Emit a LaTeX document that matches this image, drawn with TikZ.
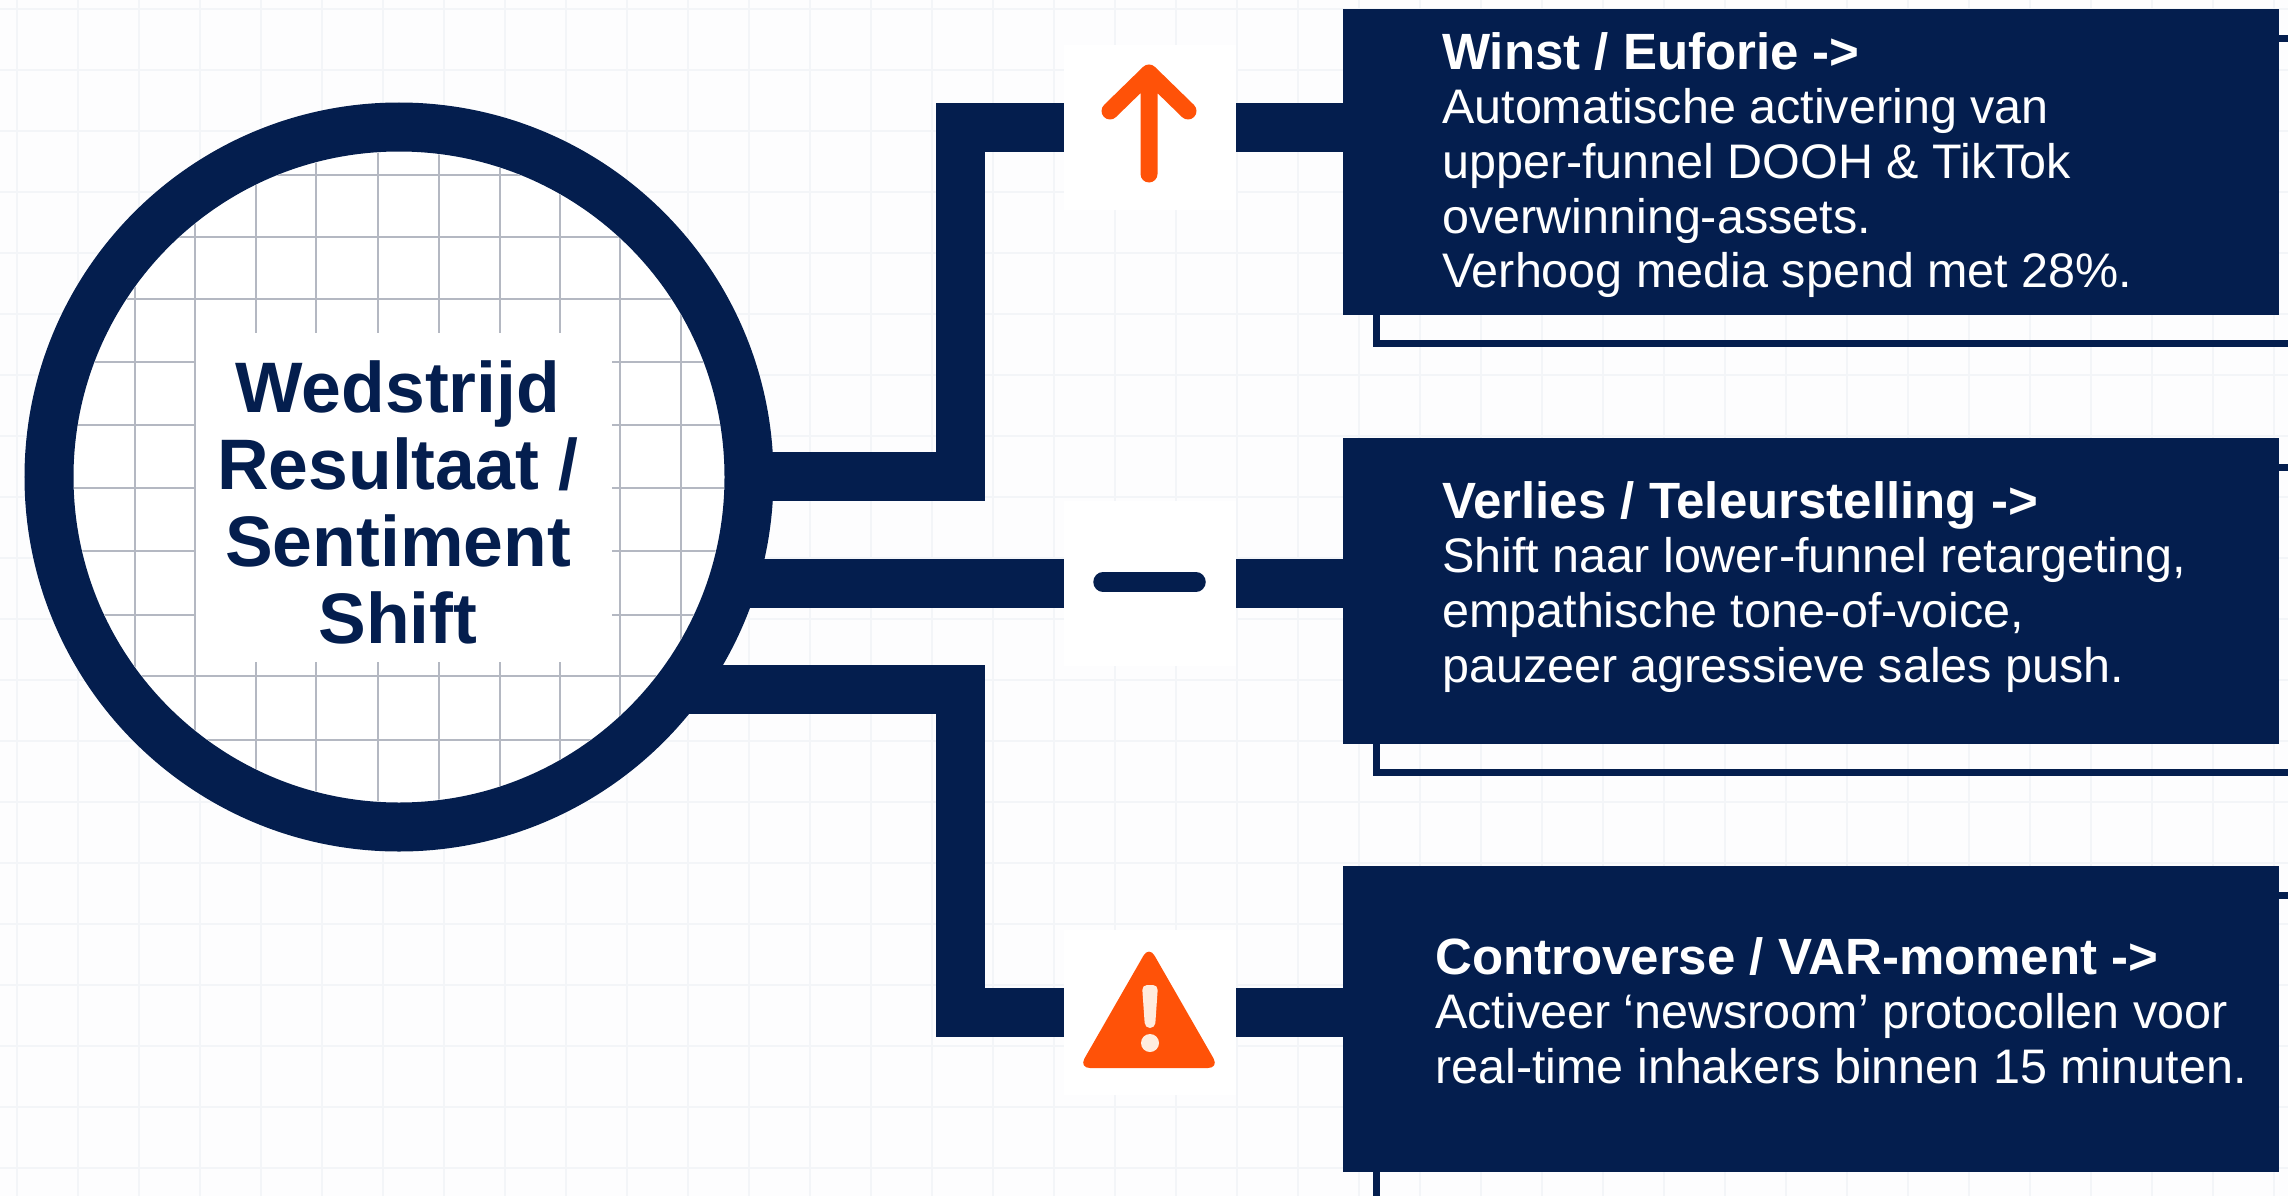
\documentclass[tikz,border=0pt]{standalone}
\usepackage{fontspec}
\setmainfont{Liberation Sans}
\usetikzlibrary{backgrounds}
\definecolor{navy}{RGB}{4,30,78}
\definecolor{hot}{RGB}{255,82,8}
\definecolor{bgc}{RGB}{253,253,254}
\definecolor{faint}{RGB}{243,245,248}
\definecolor{gridc}{RGB}{180,184,194}
\definecolor{pale}{RGB}{255,236,222}
\pgfdeclarelayer{bottom}
\pgfsetlayers{bottom,background,main}
\tikzset{
  x=1pt,y=-1pt,
  conn/.style={draw=navy,line width=49pt,line join=miter},
  thinl/.style={draw=navy,line width=7pt},
  cardbox/.style={rectangle,fill=navy,minimum width=936pt,minimum height=306pt,inner sep=0pt,outer sep=0pt},
  mask/.style={rectangle,fill=white,minimum width=172pt,minimum height=165pt,inner sep=0pt,outer sep=0pt},
  hubring/.style={circle,draw=navy,fill=white,line width=49pt,minimum size=700pt,inner sep=0pt,outer sep=0pt},
  cardtext/.style={text=white,align=left,anchor=north west,inner sep=0pt,font=\fontsize{48.5}{54.7}\selectfont},
  hubmask/.style={rectangle,fill=white,inner sep=0pt,minimum width=416pt,minimum height=329pt},
  hubtext/.style={text=navy,align=center,font=\fontsize{71.5}{77}\selectfont\bfseries,inner sep=0pt},
}
\newcommand{\hd}[1]{{\fontsize{51}{54.7}\selectfont\bfseries #1}}
\begin{document}
\begin{tikzpicture}
\useasboundingbox (0,0) rectangle (2288,1196);
% background and grid
\begin{pgfonlayer}{bottom}
\fill[bgc] (0,0) rectangle (2288,1196);
\foreach \i in {0,...,37} \draw[faint,line width=1.5pt] ({17+61*\i},0) -- ({17+61*\i},1196);
\foreach \i in {0,...,19} \draw[faint,line width=1.5pt] (0,{9+61*\i}) -- (2288,{9+61*\i});
\end{pgfonlayer}
% hub
\node[hubring] (hub) at (399,477) {};
\begin{scope}
\clip (399,477) circle (325);
\foreach \x in {135,195,256,316,378,439,500,560,620,681} \draw[gridc,line width=2.4pt] (\x,140) -- (\x,815);
\foreach \y in {175,237,299,362,425,488,551,615,676,740} \draw[gridc,line width=2.4pt] (60,\y) -- (740,\y);
\end{scope}
\node[hubmask] (hubm) at (404,497) {};
\node[hubtext] (hubt) at (398,502) {Wedstrijd\\Resultaat /\\Sentiment\\Shift};
% cards
\node[cardbox] (c1) at (1811,162) {};
\node[cardbox] (c2) at (1811,590.5) {};
\node[cardbox] (c3) at (1811,1018.5) {};
\node[cardtext] (t1) at (1442,32) {\hd{Winst / Euforie ->}\\Automatische activering van\\upper-funnel DOOH \& TikTok\\overwinning-assets.\\Verhoog media spend met 28\%.};
\node[cardtext] (t2) at (1442,481) {\hd{Verlies / Teleurstelling ->}\\Shift naar lower-funnel retargeting,\\empathische tone-of-voice,\\pauzeer agressieve sales push.};
\node[cardtext] (t3) at (1435,937) {\hd{Controverse / VAR-moment ->}\\Activeer ‘newsroom’ protocollen voor\\real-time inhakers binnen 15 minuten.};
% icon masks
\node[mask] (i1) at (1150,127.5) {};
\node[mask] (i2) at (1150,583) {};
\node[mask] (i3) at (1150,1012) {};
% icons
\draw[hot,line width=17pt,line cap=round,line join=round] (1149,174) -- (1149,73) (1110,111) -- (1149,73) -- (1188,111);
\draw[navy,line width=19.5pt,line cap=round] (1103,582) -- (1196,582);
\fill[hot,rounded corners=11pt] (1149,946) -- (1219,1068) -- (1079,1068) -- cycle;
\fill[pale,rounded corners=5pt] (1142,985) -- (1158,985) -- (1155,1028) -- (1145,1028) -- cycle;
\fill[pale] (1150,1043) circle (9);
% connectors
\coordinate (j1) at (960,476.5);
\coordinate (j3) at (960,689.5);
\begin{scope}[on background layer]
\draw[conn] (hub.center |- j1) -- (j1) |- (i1.west);
\draw[conn] (hub.center |- i2.west) -- (i2.west);
\draw[conn] (hub.center |- j3) -- (j3) |- (i3.west);
\draw[conn] (i1.east) -- (i1.east -| c1.west);
\draw[conn] (i2.east) -- (i2.east -| c2.west);
\draw[conn] (i3.east) -- (i3.east -| c3.west);
\draw[thinl] ([xshift=33pt]c1.south west) |- (2288,343.5);
\draw[thinl] ([xshift=33pt]c2.south west) |- (2288,772);
\draw[thinl] ([xshift=33pt]c3.south west) |- (2288,1199);
\draw[thinl] ([yshift=-30pt]c1.north east) -- ++(12,0);
\draw[thinl] ([yshift=-30pt]c2.north east) -- ++(12,0);
\draw[thinl] ([yshift=-30pt]c3.north east) -- ++(12,0);
\end{scope}
\end{tikzpicture}
\end{document}
